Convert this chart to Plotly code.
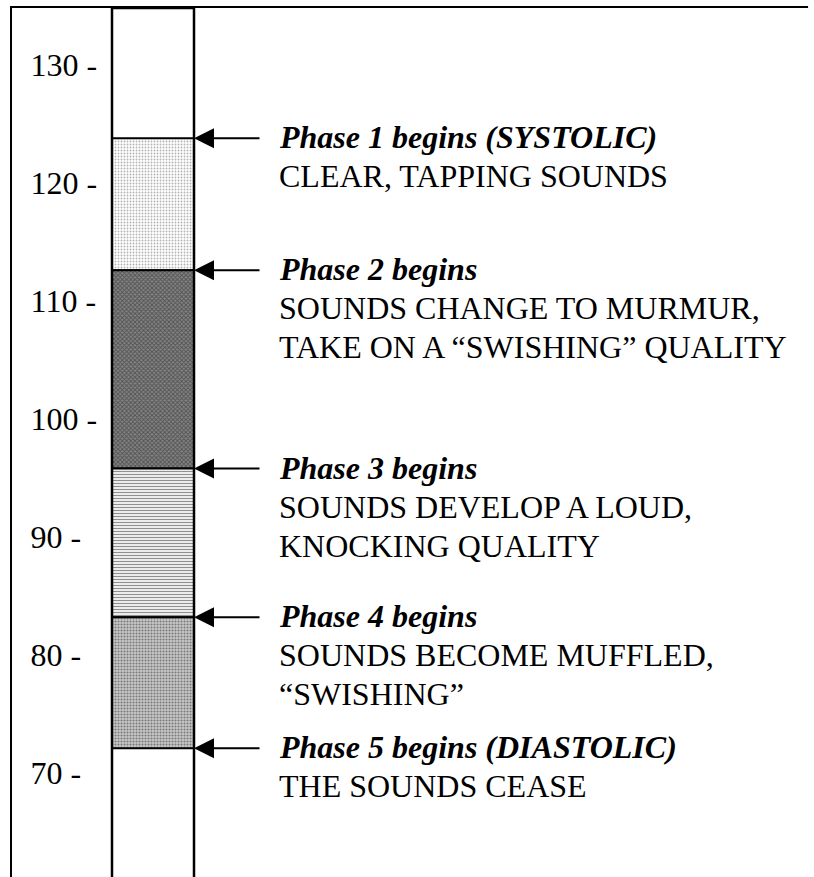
import plotly.graph_objects as go

# ---------------- data ----------------
tick_values = [70, 80, 90, 100, 110, 120, 130]
tick_labels = [f"{v} -" for v in tick_values]

# pressure (mmHg) at which each Korotkoff phase begins
phase_start = [123.8, 112.6, 95.8, 83.2, 72.1]
phase_titles = [
    "Phase 1 begins (SYSTOLIC)",
    "Phase 2 begins",
    "Phase 3 begins",
    "Phase 4 begins",
    "Phase 5 begins (DIASTOLIC)",
]
phase_notes = [
    ["CLEAR, TAPPING SOUNDS"],
    ["SOUNDS CHANGE TO MURMUR,", "TAKE ON A \u201cSWISHING\u201d QUALITY"],
    ["SOUNDS DEVELOP A LOUD,", "KNOCKING QUALITY"],
    ["SOUNDS BECOME MUFFLED,", "\u201cSWISHING\u201d"],
    ["THE SOUNDS CEASE"],
]

# ---------------- styling ----------------
FONT = "Liberation Serif"
FS = 32
patterns = [
    dict(shape=".", bgcolor="#ffffff", fgcolor="#666666", size=3, solidity=0.3),
    dict(shape="x", bgcolor="#858585", fgcolor="#1e1e1e", size=3, solidity=0.5),
    dict(shape="-", bgcolor="#ffffff", fgcolor="#222222", size=3, solidity=0.45),
    dict(shape=".", bgcolor="#c8c8c8", fgcolor="#2a2a2a", size=3, solidity=0.4),
]

COL_X = 0.0
COL_W = 1.0

fig = go.Figure()
for i in range(len(phase_start) - 1):
    top = phase_start[i]
    bottom = phase_start[i + 1]
    fig.add_trace(go.Bar(
        x=[COL_X], y=[top - bottom], base=[bottom], width=[COL_W],
        marker=dict(color=patterns[i]["bgcolor"], pattern=patterns[i],
                    line=dict(color="black", width=2)),
        showlegend=False, hoverinfo="skip",
    ))

# column outline (full height)
fig.add_shape(type="rect", xref="x", yref="paper",
              x0=COL_X - COL_W / 2, x1=COL_X + COL_W / 2, y0=-0.01, y1=1,
              line=dict(color="black", width=2.5), layer="above")

# continue the top frame line a little further right (stopping short of the page edge)
fig.add_shape(type="line", xref="paper", yref="paper", x0=1, x1=1.018,
              ysizemode="pixel", yanchor=1, y0=1, y1=1,
              line=dict(color="black", width=2), layer="above")

annotations = []
edge = COL_X + COL_W / 2
LINE = 39
for s, title, notes in zip(phase_start, phase_titles, phase_notes):
    annotations.append(dict(
        x=edge, y=s, xref="x", yref="y", text="", showarrow=True,
        ax=67, ay=0, axref="pixel", ayref="pixel",
        arrowhead=2, arrowsize=2, arrowwidth=2, arrowcolor="black", standoff=0,
    ))
    lines = [f"<b><i>{title}</i></b>"] + notes
    for j, t in enumerate(lines):
        annotations.append(dict(
            x=edge, y=s, xref="x", yref="y", text=t, showarrow=False,
            xanchor="left", yanchor="middle", xshift=83, yshift=1 - LINE * j,
            font=dict(family=FONT, size=FS, color="black"),
        ))

# column is 82 px wide (1 x-unit); plot area spans 782 px
fig.update_layout(
    width=814, height=877,
    margin=dict(l=12, r=20, t=8, b=0),
    paper_bgcolor="white", plot_bgcolor="white",
    barmode="overlay",
    annotations=annotations,
    font=dict(family=FONT, size=FS, color="black"),
    xaxis=dict(range=[-1.7195, 7.817], side="top", showline=True, linewidth=2,
               linecolor="black", showticklabels=False, showgrid=False,
               zeroline=False, ticks=""),
    yaxis=dict(range=[61.19, 134.83], showline=True, linewidth=2, linecolor="black",
               tickvals=tick_values, ticktext=tick_labels, ticks="",
               ticklabelposition="inside", ticklabelstandoff=22,
               showgrid=False, zeroline=False,
               tickfont=dict(family=FONT, size=FS, color="black")),
)

fig.write_html("out.html", config={"displayModeBar": False},
               post_script="document.body.style.margin='0';document.body.style.overflow='hidden';")
